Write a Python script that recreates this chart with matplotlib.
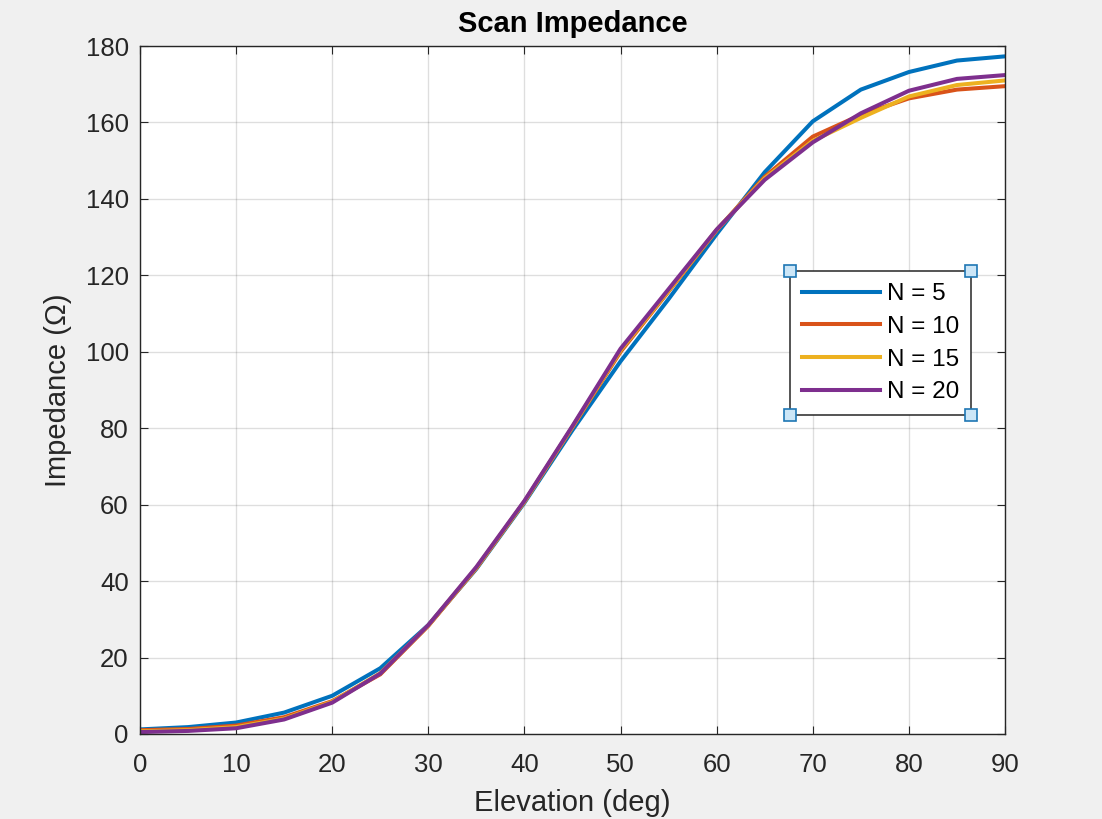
import numpy as np
import matplotlib
matplotlib.use("Agg")
from matplotlib import pyplot as plt

plt.rcParams['font.family'] = ['Liberation Sans', 'DejaVu Sans']

# scan elevation in degrees
elevation = [0, 5, 10, 15, 20, 25, 30, 35, 40, 45, 50, 55, 60, 65, 70, 75, 80, 85, 90]

# scan impedance (ohm) for the different array sizes
z_n5 = [1.2, 1.8, 3.0, 5.6, 10.0, 17.2, 28.5, 43.2, 60.5, 79.5, 97.5, 113.8, 130.8, 147.0, 160.3, 168.6, 173.2, 176.2, 177.3]
z_n10 = [1.0, 1.3, 2.2, 4.4, 8.6, 15.6, 28.3, 43.4, 60.8, 80.3, 100.0, 115.8, 131.8, 145.8, 156.3, 162.0, 166.3, 168.6, 169.5]
z_n15 = [0.7, 1.0, 1.8, 4.0, 8.4, 15.9, 28.4, 43.5, 60.8, 80.4, 100.4, 116.0, 131.9, 145.4, 155.2, 161.2, 166.8, 169.8, 171.0]
z_n20 = [0.5, 0.8, 1.5, 3.8, 8.2, 15.8, 28.5, 43.7, 61.0, 80.6, 100.8, 116.4, 132.0, 145.0, 154.8, 162.4, 168.3, 171.4, 172.4]

labels = ['N = 5', 'N = 10', 'N = 15', 'N = 20']
colours = ['#0072BD', '#D95319', '#EDB120', '#7E2F8E']

fig = plt.figure(figsize=(11.02, 8.19), dpi=100, facecolor='#f0f0f0')
ax = fig.add_axes([0.127, 0.1038, 0.785, 0.84])

for z, lab, c in zip([z_n5, z_n10, z_n15, z_n20], labels, colours):
    ax.plot(elevation, z, color=c, linewidth=2.9, label=lab)

ax.set_xlim(0, 90)
ax.set_ylim(0, 180)
ax.set_xticks(np.arange(0, 91, 10))
ax.set_yticks(np.arange(0, 181, 20))
ax.grid(True, color='#262626', alpha=0.15, linewidth=1.0)
ax.tick_params(direction='in', top=True, right=True, labelsize=18.5, colors='#262626', length=6)
ax.tick_params(axis='x', pad=14)
ax.tick_params(axis='y', pad=8)
for s in ax.spines.values():
    s.set_color('#262626')
    s.set_linewidth(1.0)

ax.set_xlabel('Elevation (deg)', fontsize=21, color='#262626', labelpad=8)
ax.set_ylabel('Impedance (\u03a9)', fontsize=21, color='#262626', labelpad=10)
ax.set_title('Scan Impedance', fontsize=21, fontweight='bold', pad=10)

leg = ax.legend(loc='upper left', bbox_to_anchor=(0.751, 0.673), fontsize=17.5,
                frameon=True, fancybox=False, edgecolor='#262626', framealpha=1,
                handlelength=3.2, handletextpad=0.3, labelspacing=0.44,
                borderpad=0.5, borderaxespad=0)
leg.get_frame().set_linewidth(1.1)

# selection handles at the legend corners (MATLAB edit mode)
fig.canvas.draw()
bb = leg.get_window_extent().transformed(ax.transAxes.inverted())
hx = [bb.x0, bb.x1, bb.x0, bb.x1]
hy = [bb.y0, bb.y0, bb.y1, bb.y1]
ax.plot(hx, hy, linestyle='none', marker='s', markersize=8.5, markerfacecolor='#cce6f7',
        markeredgecolor='#1f77b4', markeredgewidth=1.2, transform=ax.transAxes,
        clip_on=False, zorder=10)

fig.savefig('out.png', dpi=100, facecolor=fig.get_facecolor())
